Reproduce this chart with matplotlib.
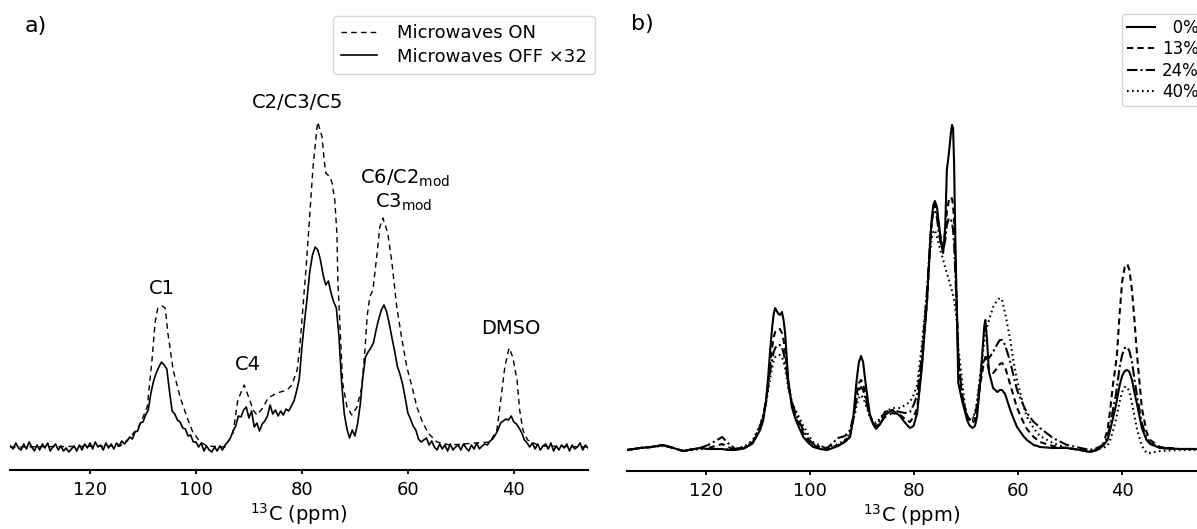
import numpy as np
import matplotlib
matplotlib.use("Agg")
import matplotlib.pyplot as plt

plt.rcParams["font.family"] = "DejaVu Sans"
plt.rcParams["mathtext.default"] = "regular"

# ---------------- panel a: microwaves on / off ----------------
ppm_on_a = [135.1, 114.3, 112.5, 110.6, 109.2, 108.3, 107.7, 107.2, 106.4, 105.8,
            105.3, 104.3, 103.0, 101.7, 100.6, 99.2, 97.9, 94.5, 93.0, 92.1,
            90.9, 90.2, 89.2, 88.5, 87.4, 86.4, 84.7, 82.8, 81.9, 80.9,
            80.4, 79.8, 79.1, 78.5, 77.9, 77.2, 77.0, 76.2, 75.8, 75.5,
            74.7, 74.3, 73.8, 73.4, 73.2, 72.6, 72.3, 71.5, 70.6, 69.6,
            68.7, 68.1, 67.7, 67.2, 66.6, 65.8, 65.3, 64.7, 63.8, 63.0,
            62.1, 61.1, 60.2, 59.2, 58.3, 57.4, 56.2, 54.5, 52.1, 44.5,
            43.2, 42.3, 41.7, 40.9, 40.2, 39.4, 38.9, 38.3, 37.4, 35.1,
            26.0]
int_on_a = [0, 1, 9, 22, 40, 87, 125, 139, 141, 139,
            114, 77, 50, 30, 15, 5, 1, 0, 14, 47,
            62, 52, 37, 32, 39, 49, 54, 57, 62, 77,
            100, 140, 187, 234, 280, 317, 325, 310, 287, 274,
            270, 264, 247, 214, 164, 97, 64, 40, 32, 40,
            60, 97, 130, 150, 157, 194, 220, 229, 214, 184,
            140, 107, 80, 60, 40, 27, 14, 5, 2, 5,
            17, 54, 80, 99, 90, 67, 37, 17, 7, 1,
            0]

# OFF spectrum (x32), sampled every 0.5 ppm from 135 to 26 ppm
ppm_off_a = np.linspace(135.0, 26.0, 219)
int_off_a = [1, -2, 4, -1, -3, 3, -2, 5, 0, -4,
             2, -3, 3, -1, 4, -4, 0, 3, -3, 1,
             -4, -1, -5, -2, 1, -4, 2, -3, 3, -1,
             4, -2, 5, 0, 2, -3, 4, -1, 3, -2,
             4, 1, 6, 3, 6, 10, 8, 15, 16, 24,
             25, 32, 37, 54, 66, 74, 80, 85, 82, 78,
             56, 36, 33, 27, 25, 19, 18, 11, 12, 5,
             5, 0, 4, -4, 1, -3, -5, 0, -4, 1,
             -3, 2, 5, 9, 16, 21, 31, 30, 37, 40,
             29, 36, 20, 24, 16, 23, 26, 31, 42, 33,
             37, 31, 36, 32, 38, 36, 41, 46, 56, 68,
             100, 126, 150, 176, 192, 200, 197, 187, 172, 162,
             166, 154, 145, 139, 110, 64, 33, 18, 9, 17,
             11, 23, 42, 70, 90, 95, 99, 104, 117, 128,
             137, 142, 135, 123, 109, 96, 81, 73, 63, 49,
             34, 28, 21, 17, 8, 5, 7, 9, 2, 6,
             0, -3, 3, -2, 2, -4, 3, -3, 0, 2,
             -3, 3, -1, -4, 2, -2, 4, -2, 1, 3,
             2, 6, 8, 12, 17, 24, 26, 28, 27, 31,
             25, 23, 19, 14, 7, 4, 0, 4, -2, 3,
             -3, 1, 3, -2, 4, -4, 1, -3, 2, -1,
             3, -4, 2, -2, 0, 4, -3, 2, -1]

# ---------------- panel b: degree of modification ----------------
ppm_b = [135.2, 132.7, 130.5, 128.3, 126.3, 124.4, 121.2, 119.6, 118.2, 116.9, 115.8, 114.4,
         112.5, 111.0, 109.6, 109.0, 108.5, 108.1, 107.7, 107.3, 107.0, 106.7,
         106.2, 105.8, 105.4, 105.1, 104.8, 104.5, 104.2, 103.5, 103.0, 102.5,
         101.3, 100.3, 99.4, 98.0, 96.7,
         94.6, 93.3, 92.3, 91.7, 91.3, 91.0, 90.6, 90.2, 89.8, 89.4,
         88.9, 88.5, 87.9, 87.3, 86.5, 85.6, 84.2, 82.7, 81.7, 80.8, 80.1,
         79.4, 78.5, 77.5, 76.9, 76.6, 76.3, 76.0, 75.6, 75.2, 74.8,
         74.4, 74.0, 73.7, 73.3, 72.9, 72.7, 72.5, 72.3, 72.1, 71.7,
         71.5, 70.8, 70.2, 69.8, 69.4, 68.8,
         68.3, 67.9, 67.3, 66.7, 66.5, 66.3, 66.0, 65.6, 64.8, 64.0,
         63.5, 63.1, 62.5, 61.5, 61.0, 60.2, 59.0, 58.3, 57.0, 56.3,
         55.8, 53.3, 50.6, 48.0, 46.2,
         44.8, 43.7, 42.8, 42.3, 41.7, 41.3, 41.0, 40.5, 40.0, 39.5,
         39.0, 38.6, 38.1, 37.6, 37.1, 36.2, 35.3, 34.6, 32.7, 29.0, 25.6]
int_0 = [0, 2, 3, 5, 2, -1, 2, 1, 1, 1, 0, 0,
         2, 7, 20, 30, 48, 70, 98, 122, 136, 142,
         137, 135, 138, 130, 117, 93, 70, 43, 34, 27,
         13, 7, 3, 1, 0,
         4, 8, 13, 32, 55, 72, 88, 94, 88, 70,
         50, 36, 26, 21, 26, 35, 40, 34, 27, 22, 24,
         37, 83, 150, 210, 232, 245, 249, 243, 225, 207,
         197, 225, 280, 297, 318, 325, 322, 285, 220, 117,
         67, 50, 38, 30, 25, 22,
         24, 33, 67, 110, 124, 130, 112, 78, 62, 58,
         60, 60, 56, 40, 33, 23, 14, 10, 5, 4,
         3, 2, 2, 0, -2,
         0, 4, 10, 20, 33, 42, 50, 64, 74, 79,
         80, 78, 70, 57, 45, 22, 10, 6, 2, 1, 1]
int_13 = [0, 2, 3, 5, 2, -1, 2, 2, 4, 6, 3, 0,
          2, 7, 22, 33, 48, 65, 85, 102, 113, 118,
          121, 121, 117, 110, 100, 84, 68, 46, 37, 30,
          17, 9, 5, 2, 1,
          5, 9, 15, 30, 45, 57, 67, 70, 66, 57,
          44, 34, 27, 23, 27, 33, 37, 35, 31, 28, 33,
          42, 85, 150, 205, 228, 240, 245, 238, 222, 210,
          205, 218, 238, 250, 253, 251, 245, 228, 195, 130,
          90, 55, 42, 35, 30, 27,
          30, 40, 65, 84, 90, 92, 88, 80, 77, 82,
          86, 87, 83, 65, 56, 42, 28, 21, 13, 10,
          8, 4, 2, 0, -2,
          0, 5, 20, 40, 68, 82, 95, 135, 168, 183,
          186, 180, 160, 128, 93, 42, 18, 10, 3, 1, 1]
int_24 = [0, 2, 3, 5, 2, -1, 2, 5, 9, 13, 7, 1,
          3, 8, 24, 35, 48, 62, 78, 90, 98, 102,
          105, 105, 103, 97, 90, 78, 65, 48, 40, 33,
          20, 11, 6, 3, 2,
          12, 14, 20, 33, 44, 52, 60, 63, 60, 52,
          42, 33, 27, 24, 30, 38, 40, 38, 37, 38, 45,
          55, 95, 160, 210, 228, 238, 240, 232, 215, 205,
          200, 210, 225, 232, 230, 227, 220, 205, 180, 130,
          95, 55, 40, 33, 31, 30,
          35, 45, 70, 88, 91, 93, 93, 92, 98, 106,
          110, 110, 105, 88, 77, 60, 45, 37, 28, 25,
          22, 12, 5, 2, 0,
          2, 5, 13, 25, 42, 52, 62, 82, 95, 102,
          103, 99, 88, 70, 53, 27, 12, 7, 2, 1, 1]
int_40 = [0, 2, 3, 4, 2, -1, 1, 1, 1, 1, 1, 1,
          4, 10, 25, 35, 46, 58, 71, 82, 89, 93,
          95, 95, 93, 88, 82, 72, 62, 48, 42, 37,
          24, 15, 8, 4, 2,
          6, 10, 17, 30, 38, 46, 52, 55, 52, 47,
          39, 33, 29, 27, 32, 38, 42, 42, 45, 48, 55,
          65, 105, 160, 200, 212, 218, 220, 213, 205, 197,
          190, 182, 177, 170, 163, 159, 155, 150, 143, 125,
          103, 70, 43, 35, 30, 30,
          38, 48, 75, 100, 108, 115, 122, 130, 143, 150,
          152, 150, 137, 110, 92, 70, 45, 33, 22, 17,
          14, 7, 2, 0, -1,
          1, 2, 4, 10, 20, 28, 35, 48, 58, 63,
          63, 58, 47, 33, 20, 4, -3, -3, -1, 0, 0]
labels_b = ["\u20070%", "13%", "24%", "40%"]

ticks = [120, 100, 80, 60, 40]

W, H = 1197, 529
fig = plt.figure(figsize=(W / 100, H / 100), dpi=100)
ax_a = fig.add_axes([10 / W, 59 / H, 578 / W, 460 / H])
ax_b = fig.add_axes([627 / W, 58 / H, 570 / W, 461 / H])


def style_axis(ax, xlim, ylim):
    ax.set_xlim(*xlim)
    ax.set_ylim(*ylim)
    for s in ["left", "right", "top"]:
        ax.spines[s].set_visible(False)
    ax.spines["bottom"].set_linewidth(1.5)
    ax.set_yticks([])
    ax.set_xticks(ticks)
    ax.tick_params(axis="x", direction="out", length=3, width=1.3,
                   labelsize=13, pad=5)
    ax.set_xlabel(r"$^{13}$C (ppm)", fontsize=14, labelpad=1.5)
    ax.patch.set_alpha(0)


# panel a
ax_a.plot(ppm_on_a, int_on_a, color="black", lw=1.0,
          linestyle=(0, (4, 3)), label="Microwaves ON")
ax_a.plot(ppm_off_a, int_off_a, color="black", lw=1.2,
          label="Microwaves OFF \u00d732")
style_axis(ax_a, (135.1, 26.0), (-23, 437))

ax_a.text(80.8, 345, "C2/C3/C5", fontsize=14, ha="center", va="center")
ax_a.text(106.4, 159, "C1", fontsize=14, ha="center", va="center")
ax_a.text(90.2, 82, "C4", fontsize=14, ha="center", va="center")
ax_a.text(60.6, 269, r"C6/C2$_{mod}$", fontsize=14, ha="center", va="center")
ax_a.text(60.8, 245, r"C3$_{mod}$", fontsize=14, ha="center", va="center")
ax_a.text(40.6, 118, "DMSO", fontsize=14, ha="center", va="center")

fig.legend(handles=ax_a.get_lines(), loc="upper left",
           bbox_to_anchor=(333 / W, 1 - 16 / H), borderaxespad=0,
           fontsize=13, handlelength=2.0, handletextpad=1.1,
           labelspacing=0.3, borderpad=0.45)

# panel b
styles_b = ["-", (0, (3, 2)), (0, (5, 1.5, 1, 1.5)), (0, (0.8, 1.6))]
for vals, lab, ls in zip([int_0, int_13, int_24, int_40], labels_b, styles_b):
    ax_b.plot(ppm_b, vals, color="black", lw=1.5, linestyle=ls, label=lab)
style_axis(ax_b, (135.2, 25.6), (-21, 440))

fig.legend(handles=ax_b.get_lines(), loc="upper left",
           bbox_to_anchor=(1122 / W, 1 - 14 / H), borderaxespad=0,
           fontsize=12, handlelength=1.65, handletextpad=0.45,
           labelspacing=0.2, borderpad=0.3)

fig.text(36 / W, 1 - 26 / H, "a)", fontsize=16, ha="center", va="center")
fig.text(642 / W, 1 - 24 / H, "b)", fontsize=16, ha="center", va="center")

fig.savefig("out.png", dpi=100)
